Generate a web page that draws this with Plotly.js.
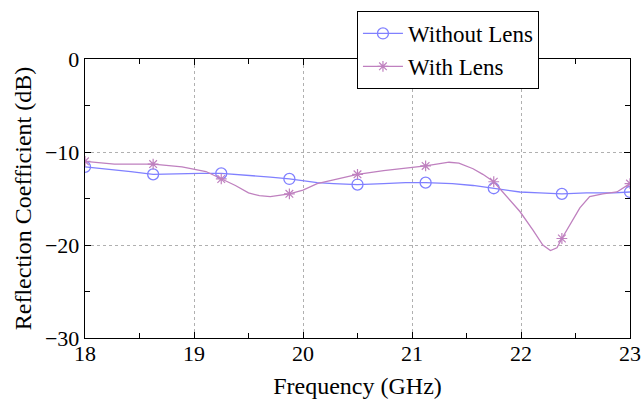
<!DOCTYPE html>
<html>
<head>
<meta charset="utf-8">
<script src="https://cdn.plot.ly/plotly-3.0.1.min.js"></script>
<style>html,body{margin:0;padding:0;background:#fff;}#chart{width:641px;height:403px;}</style>
</head>
<body>
<div id="chart"></div>
<script>
// Without Lens
const freqNoLens = [18.0, 18.27, 18.42, 18.625, 18.89, 19.05, 19.25, 19.5, 19.7, 19.875, 20.13, 20.28, 20.5, 20.74, 20.94, 21.125, 21.37, 21.56, 21.75, 21.99, 22.17, 22.375, 22.6, 22.85, 23.0];
const s11NoLens  = [-11.6, -11.9, -12.1, -12.4, -12.3, -12.3, -12.3, -12.5, -12.7, -12.9, -13.3, -13.4, -13.5, -13.4, -13.3, -13.3, -13.4, -13.6, -13.9, -14.3, -14.4, -14.5, -14.4, -14.4, -14.3];
// With Lens
const freqLens = [18.0, 18.27, 18.625, 18.89, 19.11, 19.25, 19.38, 19.5, 19.6, 19.7, 19.875, 20.0, 20.13, 20.28, 20.5, 20.74, 21.125, 21.34, 21.43, 21.56, 21.65, 21.75, 21.87, 21.99, 22.11, 22.2, 22.27, 22.33, 22.375, 22.45, 22.54, 22.63, 22.75, 22.88, 23.0];
const s11Lens  = [-11.0, -11.3, -11.3, -11.6, -12.1, -12.9, -13.6, -14.4, -14.7, -14.8, -14.5, -14.1, -13.4, -13.0, -12.4, -12.0, -11.5, -11.1, -11.2, -11.8, -12.4, -13.2, -14.8, -16.4, -18.4, -20.0, -20.6, -20.3, -19.3, -17.8, -16.0, -14.8, -14.5, -14.3, -13.4];
const markerFreqs = [18.0, 18.625, 19.25, 19.875, 20.5, 21.125, 21.75, 22.375, 23.0];
const seriesNames = ['Without Lens', 'With Lens'];
const xTicks = [18, 19, 20, 21, 22, 23];
const yTicks = [0, -10, -20, -30];

function pick(xs, ys) {
  const mx = [], my = [];
  xs.forEach((v, i) => { if (markerFreqs.some(m => Math.abs(m - v) < 1e-6)) { mx.push(v); my.push(ys[i]); } });
  return [mx, my];
}

const blue = '#8080ff';
const purple = '#bf80bf';
const font = 'Liberation Serif';

const [bmx, bmy] = pick(freqNoLens, s11NoLens);
const [pmx, pmy] = pick(freqLens, s11Lens);
const blueMarker = {symbol: 'circle-open', size: 11, color: blue, line: {width: 1.3, color: blue}};
const purpleMarker = {symbol: 'asterisk-open', size: 9, color: purple, line: {width: 1.2, color: purple}};

const traces = [
  {x: freqNoLens, y: s11NoLens, mode: 'lines', line: {color: blue, width: 1.3}, showlegend: false},
  {x: bmx, y: bmy, mode: 'markers', marker: blueMarker, showlegend: false},
  {x: freqLens, y: s11Lens, mode: 'lines', line: {color: purple, width: 1.3}, showlegend: false},
  {x: pmx, y: pmy, mode: 'markers', marker: purpleMarker, showlegend: false},
  {x: [null], y: [null], name: seriesNames[0], mode: 'lines+markers', line: {color: blue, width: 1.3}, marker: blueMarker},
  {x: [null], y: [null], name: seriesNames[1], mode: 'lines+markers', line: {color: purple, width: 1.3}, marker: purpleMarker}
];

const axisCommon = {
  showline: true, linecolor: '#000', linewidth: 1.3, mirror: 'ticks',
  ticks: 'inside', ticklen: 6, tickwidth: 1, tickcolor: '#000',
  showgrid: true, gridcolor: '#b0b0b0', griddash: 'dot', gridwidth: 1,
  zeroline: false,
  tickfont: {family: font, size: 22, color: '#000'},
  minor: {ticks: 'inside', ticklen: 5, tickwidth: 1, tickcolor: '#000', showgrid: false}
};

const layout = {
  width: 641, height: 403,
  margin: {l: 85, r: 11, t: 59, b: 65},
  paper_bgcolor: '#fff', plot_bgcolor: '#fff',
  showlegend: true,
  font: {family: font, color: '#000'},
  xaxis: Object.assign({}, axisCommon, {
    range: [18, 23], tickvals: xTicks, ticktext: xTicks.map(String),
    ticklabelstandoff: -5,
    minor: Object.assign({}, axisCommon.minor, {dtick: 0.5, tick0: 18}),
    title: {text: 'Frequency (GHz)', font: {family: font, size: 24, color: '#000'}, standoff: 12}
  }),
  yaxis: Object.assign({}, axisCommon, {
    range: [-30, 0], tickvals: yTicks,
    minor: Object.assign({}, axisCommon.minor, {dtick: 5, tick0: 0}),
    title: {text: 'Reflection Coefficient (dB)', font: {family: font, size: 24, color: '#000'}, standoff: 6}
  }),
  legend: {
    x: 0.499, y: 1.172, xanchor: 'left', yanchor: 'top',
    bgcolor: '#fff', bordercolor: '#000', borderwidth: 1,
    font: {family: font, size: 23, color: '#000'},
    itemwidth: 40, tracegroupgap: 0
  }
};

Plotly.newPlot('chart', traces, layout, {displayModeBar: false, staticPlot: true});
</script>
</body>
</html>
